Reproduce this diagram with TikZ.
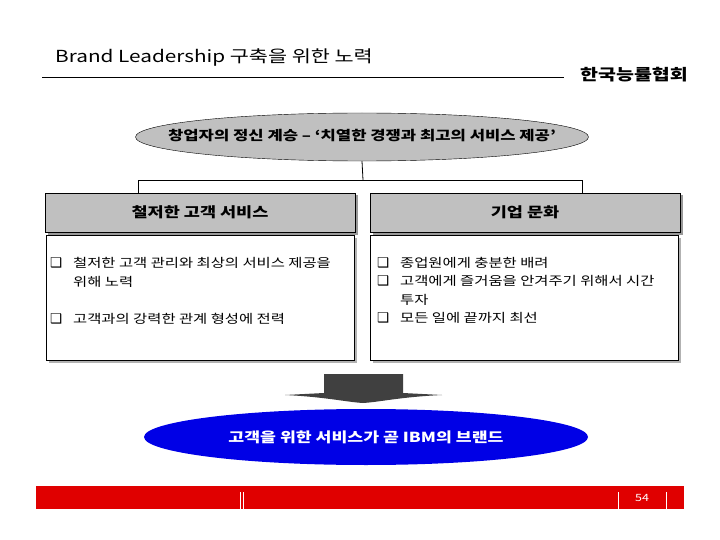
\documentclass[tikz,border=0pt]{standalone}
\usepackage{fontspec}
\setmainfont[FakeStretch=1.25]{Noto Sans CJK KR}
\newfontfamily\djv{DejaVu Sans}
\usetikzlibrary{shapes.geometric,shadows}
\definecolor{hdrgray}{RGB}{192,192,192}
\definecolor{arrowgray}{RGB}{64,64,64}
\definecolor{barred}{RGB}{224,0,0}
\definecolor{ovalblue}{RGB}{0,0,230}
\newcommand\bulbox{\makebox[23pt][l]{{\djv\fontsize{13.5}{13.5}\selectfont\char"2751}}}
\tikzset{
  hdr/.style={draw=black, fill=hdrgray, minimum width=310pt, minimum height=39pt, inner sep=0pt,
    drop shadow={shadow xshift=2.5pt, shadow yshift=-2.5pt, fill=gray!80, opacity=1}},
  body/.style={draw=black, fill=white, minimum width=308pt, minimum height=125pt, inner sep=0pt,
    drop shadow={shadow xshift=2.5pt, shadow yshift=-2.5pt, fill=gray!60, opacity=1}},
  hdrtext/.style={font=\fontsize{14}{14}\selectfont\bfseries},
  itemtext/.style={anchor=base west, inner sep=0pt, font=\fontsize{12.3}{12.3}\selectfont},
  conn/.style={draw=black, line width=0.8pt},
  whitebar/.style={draw=white, line width=1pt}
}
\begin{document}
\begin{tikzpicture}[x=1pt,y=-1pt]
\useasboundingbox (0,0) rectangle (720,540);
% title
\node[anchor=west, inner sep=0pt, font=\fontsize{16.6}{16.6}\selectfont] (title) at (55,58) {Brand Leadership 구축을 위한 노력};
\coordinate (rl) at (42,77);
\coordinate (rr) at (564,77);
\draw[line width=0.8pt] (rl) -- (rr);
\node[anchor=west, inner sep=0pt, font=\fontsize{15.6}{15.6}\selectfont\bfseries] (org) at (580,75) {한국능률협회};
% top ellipse
\node[ellipse, draw=black, fill=hdrgray, minimum width=453pt, minimum height=48pt, inner sep=0pt] (top) at (362,137) {};
\node[font=\fontsize{13.3}{13.3}\selectfont\bfseries] (toptext) at (362,136) {창업자의 정신 계승 – ‘치열한 경쟁과 최고의 서비스 제공’};
% headers
\node[hdr] (h1) at (200,212.5) {};
\node[hdrtext] (h1t) at (200,212.5) {철저한 고객 서비스};
\node[hdr] (h2) at (525,212.5) {};
\node[hdrtext] (h2t) at (525,212.5) {기업 문화};
% connectors
\coordinate (fork) at (363,180);
\coordinate (dl) at (138,180);
\coordinate (dr) at (582,180);
\draw[conn] (top.south) -- (fork);
\draw[conn] (dl |- h1.north) -- (dl) -- (dr) -- (dr |- h2.north);
% body boxes
\node[body] (b1) at (200,297.5) {};
\node[body] (b2) at (524.5,297.5) {};
\node[itemtext] (i11a) at (50,267) {\bulbox 철저한 고객 관리와 최상의 서비스 제공을};
\node[itemtext] (i11b) at (73,286) {위해 노력};
\node[itemtext] (i12) at (50,323) {\bulbox 고객과의 강력한 관계 형성에 전력};
\node[itemtext] (i21) at (377,267) {\bulbox 종업원에게 충분한 배려};
\node[itemtext] (i22a) at (377,285.5) {\bulbox 고객에게 즐거움을 안겨주기 위해서 시간};
\node[itemtext] (i22b) at (400,304) {투자};
\node[itemtext] (i23) at (377,322) {\bulbox 모든 일에 끝까지 최선};
% arrow
\fill[arrowgray] (324,374) -- (403,374) -- (403,393) -- (442,395)
   .. controls (400,397) and (380,402) .. (363,403)
   .. controls (346,402) and (326,397) .. (285,395) -- (324,393) -- cycle;
% bottom ellipse
\node[ellipse, fill=ovalblue, minimum width=444pt, minimum height=56pt, inner sep=0pt] (bot) at (366,437) {};
\node[font=\fontsize{13.8}{13.8}\selectfont\bfseries, text=white] (bottext) at (366,437) {고객을 위한 서비스가 곧 IBM의 브랜드};
% footer bar
\fill[barred] (36,486) rectangle (684,509);
\draw[whitebar] (240,492) -- (240,509);
\draw[whitebar] (243,492) -- (243,509);
\draw[whitebar] (618,492) -- (618,509);
\draw[whitebar] (666,492) -- (666,509);
\node[text=white, font=\fontsize{10}{10}\selectfont] (pg) at (642,498) {54};
\end{tikzpicture}
\end{document}
